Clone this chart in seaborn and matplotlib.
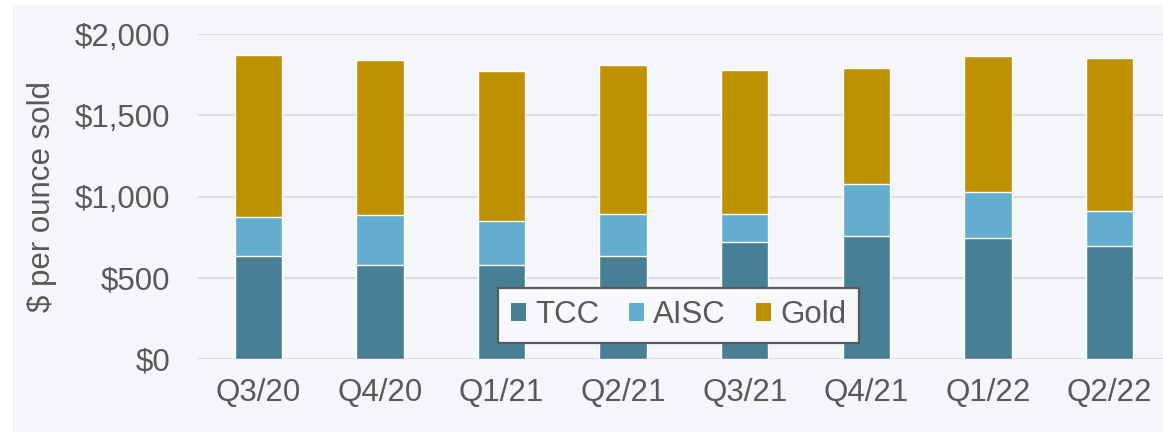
import numpy as np
import pandas as pd
import seaborn as sns
import matplotlib.pyplot as plt
from matplotlib.patches import Patch, Rectangle
from matplotlib.ticker import FuncFormatter

# ------------------------------------------
# data ($ per ounce sold)
# ------------------------------------------
quarters = ["Q3/20", "Q4/20", "Q1/21", "Q2/21", "Q3/21", "Q4/21", "Q1/22", "Q2/22"]
tcc = [635, 580, 580, 635, 720, 760, 745, 695]
aisc = [872, 886, 850, 895, 895, 1077, 1030, 911]
gold = [1872, 1840, 1770, 1807, 1776, 1793, 1863, 1855]

df = pd.DataFrame({"Quarter": quarters, "TCC": tcc, "AISC": aisc, "Gold": gold})

colors = {"TCC": "#487F94", "AISC": "#63AECF", "Gold": "#BF9000"}
bg = "#F5F6FA"
txt = "#595959"

sns.set_style("white")
plt.rcParams["font.family"] = ["Liberation Sans", "DejaVu Sans"]

fig = plt.figure(figsize=(11.63, 4.32), dpi=100, facecolor="white")
fig.patches.append(Rectangle((12 / 1163, 0), 1, 427 / 432, transform=fig.transFigure,
                             facecolor=bg, edgecolor="none", zorder=-1))
ax = fig.add_axes([198 / 1163, 73 / 432, 1 - 198 / 1163, 325 / 432])
ax.set_facecolor(bg)

# stacked look: draw totals first, then overlay lower segments
for col in ["Gold", "AISC", "TCC"]:
    sns.barplot(data=df, x="Quarter", y=col, color=colors[col], width=0.39,
                edgecolor="white", linewidth=1, saturation=1, ax=ax, zorder=3)

ax.set_ylim(0, 2000)
ax.set_xlim(-0.497, 7.44)
ax.set_yticks([0, 500, 1000, 1500, 2000])
ax.yaxis.set_major_formatter(FuncFormatter(lambda v, p: f"${v:,.0f}"))
ax.grid(axis="y", color="#DCDCDE", linewidth=1.6, zorder=0)
ax.set_axisbelow(True)
for s in ax.spines.values():
    s.set_visible(False)

ax.tick_params(axis="both", length=0, labelsize=22.5, labelcolor=txt)
ax.tick_params(axis="y", pad=20)
ax.tick_params(axis="x", pad=14)
ax.set_xlabel("")
ax.set_ylabel("$ per ounce sold", fontsize=22.5, color=txt, labelpad=13)

handles = [Patch(facecolor=colors[k], edgecolor="none", label=k) for k in ["TCC", "AISC", "Gold"]]
leg = ax.legend(handles=handles, loc="center", bbox_to_anchor=(0.498, 0.135), ncol=3,
                fontsize=22.5, frameon=True, fancybox=False, handlelength=0.48,
                handleheight=0.48, handletextpad=0.3, columnspacing=0.95,
                borderpad=0.4, borderaxespad=0, labelcolor=txt)
leg.get_frame().set_edgecolor("#595959")
leg.get_frame().set_linewidth(1.6)
leg.get_frame().set_facecolor("#F7F9FC")
leg.get_frame().set_alpha(1)

fig.savefig("out.png", dpi=100, facecolor="white")
